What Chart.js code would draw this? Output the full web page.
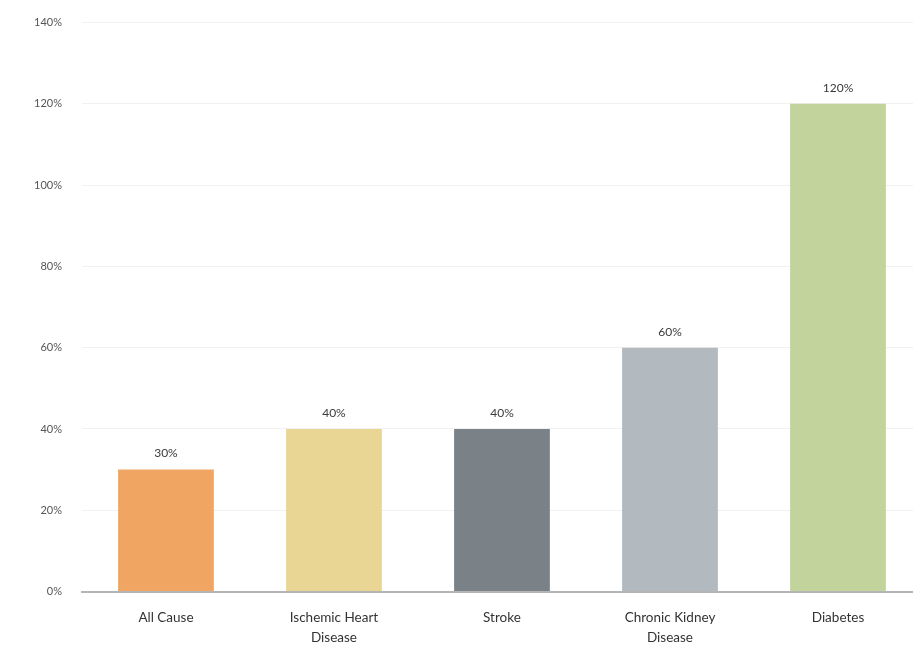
<!DOCTYPE html>
<html>
<head>
<meta charset="utf-8">
<script src="https://cdn.jsdelivr.net/npm/chart.js@4"></script>
<style>
  html, body { margin: 0; padding: 0; background: #fff; overflow: hidden; }
  #wrap { width: 922px; height: 651px; margin-top: -4px; }
</style>
</head>
<body>
<div id="wrap"><canvas id="chart"></canvas></div>
<script>
const categories = [
  "All Cause",
  ["Ischemic Heart", "Disease"],
  "Stroke",
  ["Chronic Kidney", "Disease"],
  "Diabetes"
];
const values = [30, 40, 40, 60, 120];
const barColors = ["#F0A662", "#E9D594", "#7A8287", "#B2B9BF", "#C2D49C"];
const yTicks = [0, 20, 40, 60, 80, 100, 120, 140];

// labels above bars
const valueLabels = {
  id: "valueLabels",
  afterDatasetsDraw(chart) {
    const ctx = chart.ctx;
    const meta = chart.getDatasetMeta(0);
    ctx.save();
    ctx.font = "12px Lato";
    ctx.fillStyle = "#3a3a3a";
    ctx.textAlign = "center";
    ctx.textBaseline = "bottom";
    meta.data.forEach((bar, i) => {
      ctx.fillText(values[i] + "%", bar.x, bar.y - 10);
    });
    ctx.restore();
  }
};

new Chart(document.getElementById("chart").getContext("2d"), {
  type: "bar",
  data: {
    labels: categories,
    datasets: [{
      data: values,
      backgroundColor: barColors,
      borderWidth: 0,
      categoryPercentage: 1,
      barPercentage: 0.57
    }]
  },
  options: {
    responsive: true,
    maintainAspectRatio: false,
    animation: false,
    layout: { padding: { left: 14, top: 4, right: 0, bottom: -17 } },
    plugins: { legend: { display: false }, tooltip: { enabled: false } },
    scales: {
      x: {
        grid: { display: false, drawTicks: false },
        border: { color: "#b5b5b5", width: 2 },
        ticks: {
          color: "#333",
          font: { family: "Lato", size: 13.5, lineHeight: 1.5 },
          padding: 16,
          maxRotation: 0
        }
      },
      y: {
        min: 0,
        max: 140,
        afterBuildTicks(axis) { axis.ticks = yTicks.map(v => ({ value: v })); },
        grid: { color: "#f1f1f1", drawTicks: false },
        border: { display: false },
        ticks: {
          color: "#555",
          font: { family: "Lato", size: 11 },
          padding: 20,
          callback: v => v + "%"
        }
      }
    }
  },
  plugins: [valueLabels]
});
</script>
</body>
</html>
